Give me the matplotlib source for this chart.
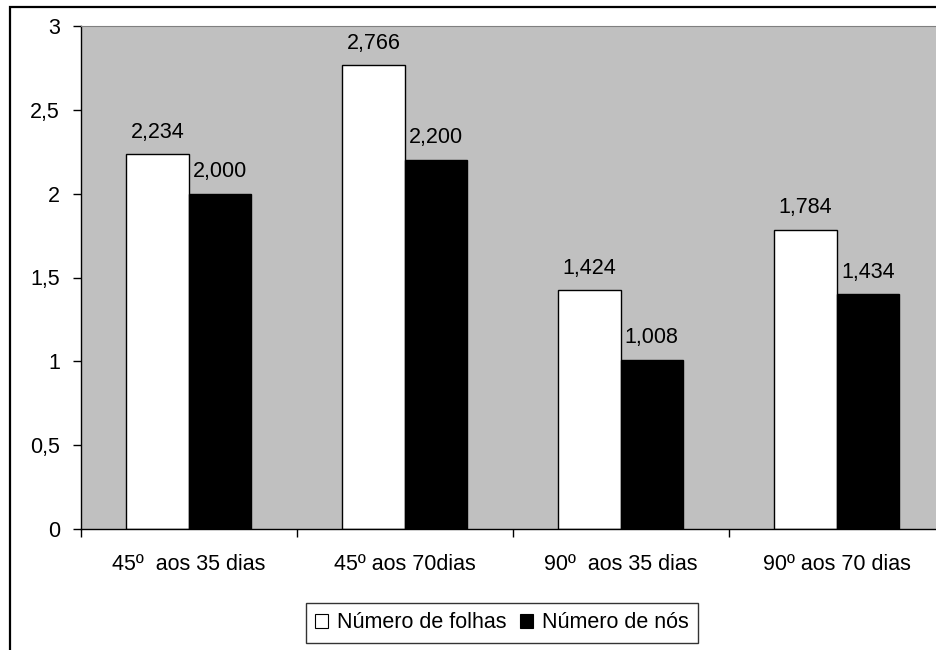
import matplotlib
matplotlib.use("Agg")
import matplotlib.pyplot as plt
from matplotlib.patches import Patch, Rectangle
from matplotlib.ticker import FixedLocator, FuncFormatter
import numpy as np

plt.rcParams['font.family'] = ['Liberation Sans', 'DejaVu Sans']

# data
categories = ['45º  aos 35 dias', '45º aos 70dias', '90º  aos 35 dias', '90º aos 70 dias']
folhas = [2.234, 2.766, 1.424, 1.784]
nos = [2.000, 2.200, 1.008, 1.400]          # last bar is drawn at ~1.4 in the original
folhas_labels = ['2,234', '2,766', '1,424', '1,784']
nos_labels = ['2,000', '2,200', '1,008', '1,434']
series_names = ['Número de folhas', 'Número de nós']

FS = 15.5

fig = plt.figure(figsize=(9.36, 6.5), dpi=100)
ax = fig.add_axes([80.7 / 936, 121 / 650, 864 / 936, 503 / 650])
ax.set_facecolor('#C0C0C0')

x = np.arange(len(categories))
w = 0.288
b1 = ax.bar(x - w / 2, folhas, w, color='white', edgecolor='black', linewidth=1)
b2 = ax.bar(x + w / 2, nos, w, color='black', edgecolor='black', linewidth=1)

for bars, labels in ((b1, folhas_labels), (b2, nos_labels)):
    for rect, lab in zip(bars, labels):
        ax.annotate(lab, (rect.get_x() + rect.get_width() / 2, rect.get_height()),
                    xytext=(0, 12), textcoords='offset points',
                    ha='center', va='baseline', fontsize=FS)

ax.set_xlim(-0.5, 3.5)
ax.set_ylim(0, 3)

# y axis
ax.set_yticks(np.arange(0, 3.01, 0.5))
ax.yaxis.set_major_formatter(FuncFormatter(lambda v, p: f'{v:g}'.replace('.', ',')))
ax.tick_params(axis='y', direction='out', length=6, width=1, pad=9, labelsize=FS)

# x axis: ticks between categories, labels at centres
ax.xaxis.set_major_locator(FixedLocator([-0.5, 0.5, 1.5, 2.5]))
ax.xaxis.set_major_formatter(FuncFormatter(lambda v, p: ''))
ax.xaxis.set_minor_locator(FixedLocator(x))
ax.set_xticklabels(categories, minor=True)
ax.tick_params(axis='x', which='major', direction='out', length=6, width=1)
ax.tick_params(axis='x', which='minor', length=0, pad=18, labelsize=FS)

for s in ['left', 'bottom']:
    ax.spines[s].set_color('black')
    ax.spines[s].set_linewidth(1)
ax.spines['top'].set_color('#808080')
ax.spines['top'].set_linewidth(0.8)
ax.spines['right'].set_visible(False)

handles = [Patch(facecolor='white', edgecolor='black', linewidth=0.8),
           Patch(facecolor='black', edgecolor='black', linewidth=0.8)]
leg = fig.legend(handles, series_names, loc='center', ncol=2,
                 bbox_to_anchor=(502 / 936, 1 - 623 / 650),
                 fontsize=FS, frameon=True, fancybox=False,
                 handlelength=0.6, handleheight=0.6, handletextpad=0.42,
                 columnspacing=0.6, borderpad=0.45, borderaxespad=0)
leg.get_frame().set_edgecolor('black')
leg.get_frame().set_linewidth(1)

# outer chart border (left and top visible)
fig.patches.append(Rectangle((10 / 936, -0.05), 1.2, 1 - 7 / 650 + 0.05,
                             transform=fig.transFigure, fill=False,
                             edgecolor='black', linewidth=1.6, clip_on=False))

fig.savefig('out.png', dpi=100)
